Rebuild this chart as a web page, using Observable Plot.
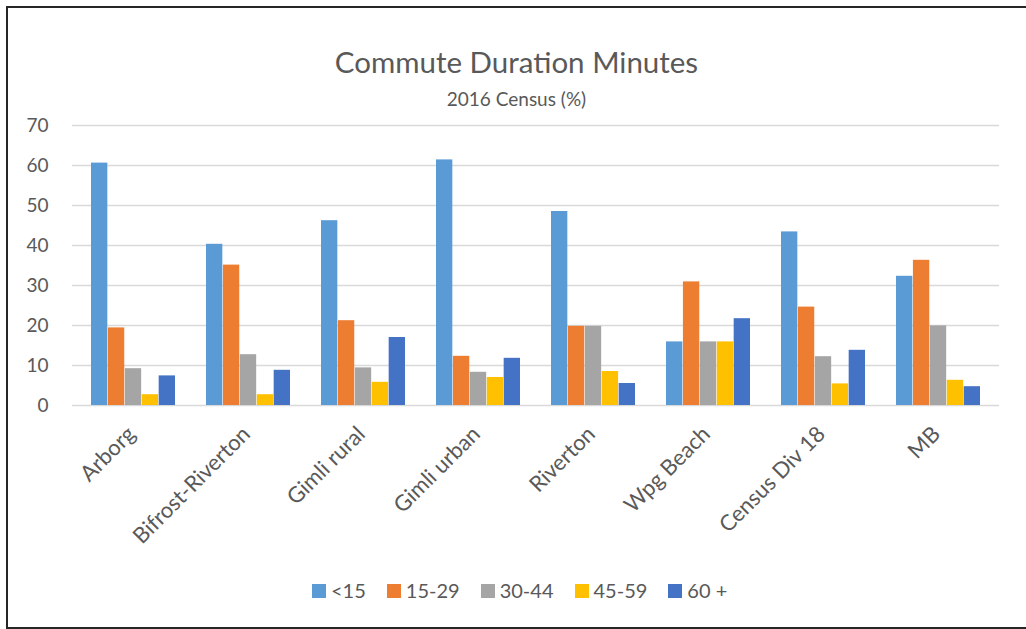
<!DOCTYPE html>
<html>
<head>
<meta charset="utf-8">
<script src="https://cdn.jsdelivr.net/npm/d3@7"></script>
<script src="https://cdn.jsdelivr.net/npm/@observablehq/plot@0.6"></script>
<style>
  body { margin: 0; background: #fff; }
  #chart { position: relative; width: 1026px; height: 629px; overflow: hidden; font-family: Lato, "Open Sans", sans-serif; color: #595959; }
  #frame { position: absolute; left: 6px; top: 6px; width: 1040px; height: 623px; border: 2px solid #262626; box-sizing: border-box; pointer-events: none; }
  #plot { position: absolute; left: 0; top: 0; }
  .title { position: absolute; left: 7px; right: 0; text-align: center; line-height: 1; white-space: nowrap; }
  #title { top: 47px; font-size: 29.5px; }
  #subtitle { top: 89px; font-size: 19px; }
  #legend { position: absolute; left: 312px; top: 580px; font-size: 20px; line-height: 1; white-space: nowrap; }
  #legend .item { display: inline-block; margin-right: 21px; }
  #legend .swatch { display: inline-block; width: 14px; height: 14px; margin-right: 5px; vertical-align: baseline; }
</style>
</head>
<body>
<div id="chart">
  <div id="plot"></div>
  <div id="title" class="title">Commute Duration Minutes</div>
  <div id="subtitle" class="title">2016 Census (%)</div>
  <div id="legend"></div>
  <div id="frame"></div>
</div>
<script>
// Share of commuters by commute duration (minutes), 2016 Census (%)
const places = ["Arborg", "Bifrost-Riverton", "Gimli rural", "Gimli urban", "Riverton", "Wpg Beach", "Census Div 18", "MB"];
const series = ["<15", "15-29", "30-44", "45-59", "60 +"];
const under15 = [60.6, 40.3, 46.2, 61.4, 48.5, 15.9, 43.4, 32.3];
const min15to29 = [19.4, 35.1, 21.2, 12.3, 19.8, 30.9, 24.6, 36.3];
const min30to44 = [9.2, 12.7, 9.4, 8.3, 19.8, 15.9, 12.2, 19.9];
const min45to59 = [2.7, 2.7, 5.8, 7.0, 8.5, 15.9, 5.4, 6.3];
const min60plus = [7.4, 8.8, 17.0, 11.8, 5.5, 21.7, 13.8, 4.7];
const yTicks = [0, 10, 20, 30, 40, 50, 60, 70];
const colors = ["#5B9BD5", "#ED7D31", "#A5A5A5", "#FFC000", "#4472C4"];

const seriesValues = [under15, min15to29, min30to44, min45to59, min60plus];
const rows = series.flatMap((s, i) => places.map((p, j) => ({place: p, series: s, value: seriesValues[i][j]})));

// Layout of the plotting area
const width = 1026, height = 629;
const marginLeft = 72, marginRight = 27, marginTop = 125, marginBottom = 224;
const paddingInner = 0.27, paddingOuter = 0.135;
const step = (width - marginLeft - marginRight) / (places.length - paddingInner + 2 * paddingOuter);
const slot = step * (1 - paddingInner) / series.length;

const chart = Plot.plot({
  width, height, marginLeft, marginRight, marginTop, marginBottom,
  style: {fontFamily: "Lato, 'Open Sans', sans-serif", fontSize: "18px", color: "#595959", background: "transparent"},
  x: {domain: places, paddingInner, paddingOuter, label: null},
  y: {domain: [0, 70], label: null},
  color: {domain: series, range: colors},
  marks: [
    Plot.ruleY(yTicks, {stroke: "#d9d9d9", strokeWidth: 1.5}),
    ...series.map((s, i) => Plot.barY(rows.filter(d => d.series === s), {
      x: "place", y: "value", fill: "series",
      insetLeft: i * slot, insetRight: (series.length - 1 - i) * slot
    })),
    Plot.axisY({ticks: yTicks, tickSize: 0, tickPadding: 24, fontSize: 19, fill: "#595959"}),
    Plot.axisX({tickSize: 0, tickRotate: -45, tickPadding: 25, dx: -2, fontSize: 22, fill: "#595959"})
  ]
});
document.getElementById("plot").appendChild(chart);

// Legend
const legend = document.getElementById("legend");
series.forEach((s, i) => {
  const item = document.createElement("span");
  item.className = "item";
  const sw = document.createElement("span");
  sw.className = "swatch";
  sw.style.background = colors[i];
  item.appendChild(sw);
  item.appendChild(document.createTextNode(s));
  legend.appendChild(item);
});
</script>
</body>
</html>
